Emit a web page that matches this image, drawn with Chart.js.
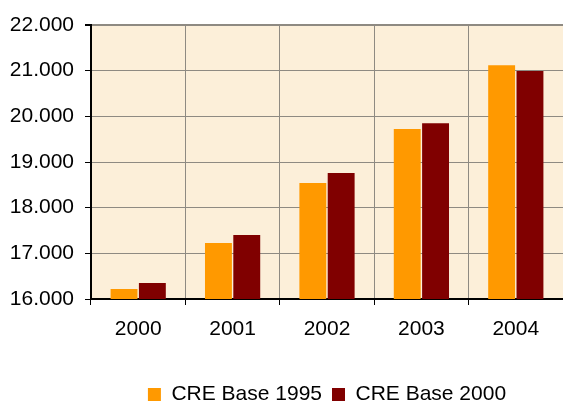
<!DOCTYPE html>
<html>
<head>
<meta charset="utf-8">
<script src="https://cdn.jsdelivr.net/npm/chart.js@4/dist/chart.umd.min.js"></script>
<style>
  html, body { margin: 0; padding: 0; background: #fff; }
  #wrap { width: 563px; height: 403px; position: relative; }
</style>
</head>
<body>
<div id="wrap"><canvas id="chart"></canvas></div>
<script>
const years = ["2000", "2001", "2002", "2003", "2004"];
const base1995 = [16220, 17225, 18540, 19720, 21120];
const base2000 = [16350, 17400, 18760, 19850, 20990];
const seriesNames = ["CRE Base 1995", "CRE Base 2000"];

const fontFamily = "'Liberation Sans', Arial, sans-serif";
const textFont = { family: fontFamily, size: 21, lineHeight: 1 };

// plot background (cream, like the original texture)
const plotBg = {
  id: "plotBg",
  beforeDraw: function (chart) {
    const a = chart.chartArea;
    const ctx = chart.ctx;
    ctx.save();
    ctx.fillStyle = "#fcefd9";
    ctx.fillRect(a.left, a.top, a.right - a.left, a.bottom - a.top);
    ctx.restore();
  },
};

const formatThousands = function (v) {
  return (v / 1000).toFixed(3);
};

new Chart(document.getElementById("chart"), {
  type: "bar",
  data: {
    labels: years,
    datasets: [
      {
        label: seriesNames[0],
        data: base1995,
        backgroundColor: "#ff9900",
        categoryPercentage: 0.6,
        barPercentage: 0.95,
      },
      {
        label: seriesNames[1],
        data: base2000,
        backgroundColor: "#800000",
        categoryPercentage: 0.6,
        barPercentage: 0.95,
      },
    ],
  },
  plugins: [plotBg],
  options: {
    responsive: true,
    maintainAspectRatio: false,
    animation: false,
    layout: { padding: { top: 25, right: 0, left: 0, bottom: -12 } },
    plugins: {
      legend: {
        position: "bottom",
        fullSize: false,
        labels: {
          font: textFont,
          color: "#000",
          boxWidth: 13,
          boxHeight: 13,
          padding: 10,
        },
      },
      tooltip: { enabled: false },
    },
    scales: {
      x: {
        grid: {
          color: "#8e8a82",
          lineWidth: 1,
          tickColor: "#000",
          tickLength: 6,
          offset: true,
        },
        border: { color: "#000", width: 2 },
        ticks: {
          font: textFont,
          color: "#000",
          padding: 14,
        },
        afterFit: function (scale) {
          scale.height = 75;
        },
      },
      y: {
        min: 16000,
        max: 22000,
        grid: {
          color: "#8e8a82",
          lineWidth: function (ctx) {
            return ctx.tick && ctx.tick.value === 22000 ? 2 : 1;
          },
          tickColor: "#000",
          tickLength: 6,
        },
        border: { color: "#000", width: 2 },
        ticks: {
          stepSize: 1000,
          font: textFont,
          color: "#000",
          padding: 11,
          callback: formatThousands,
        },
        afterFit: function (scale) {
          scale.width = 91;
        },
      },
    },
  },
});
</script>
</body>
</html>
